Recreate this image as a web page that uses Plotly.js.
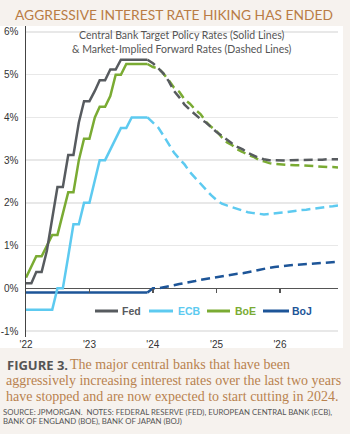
<!DOCTYPE html>
<html>
<head>
<meta charset="utf-8">
<script src="https://cdn.plot.ly/plotly-3.0.1.min.js"></script>
<style>
  html, body { margin: 0; padding: 0; background: #f6f2ee; }
  #chart { width: 350px; height: 434px; }
</style>
</head>
<body>
<div id="chart"></div>
<script>
// ---------- data ----------
const histMonths = ['2022-01','2022-02','2022-03','2022-04','2022-05','2022-06','2022-07','2022-08','2022-09','2022-10','2022-11','2022-12',
                    '2023-01','2023-02','2023-03','2023-04','2023-05','2023-06','2023-07','2023-08','2023-09','2023-10','2023-11','2023-12'];
const fcstMonths = ['2023-12',
                    '2024-01','2024-02','2024-03','2024-04','2024-05','2024-06','2024-07','2024-08','2024-09','2024-10','2024-11','2024-12',
                    '2025-01','2025-02','2025-03','2025-04','2025-05','2025-06','2025-07','2025-08','2025-09','2025-10','2025-11','2025-12',
                    '2026-01','2026-02','2026-03','2026-04','2026-05','2026-06','2026-07','2026-08','2026-09','2026-10','2026-11','2026-12'];

const fedHist = [0.12,0.12,0.38,0.38,0.88,1.62,2.37,2.37,3.12,3.12,3.88,4.38,4.38,4.62,4.87,4.87,5.12,5.12,5.35,5.35,5.35,5.35,5.35,5.35];
const ecbHist = [-0.5,-0.5,-0.5,-0.5,-0.5,-0.5,0,0,0.75,1.5,1.5,2.0,2.0,2.5,3.0,3.0,3.25,3.5,3.75,3.75,4.0,4.0,4.0,4.0];
const boeHist = [0.25,0.5,0.75,0.75,1.0,1.25,1.25,1.75,2.25,2.25,3.0,3.5,3.5,4.0,4.25,4.25,4.5,5.0,5.0,5.25,5.25,5.25,5.25,5.25];
const bojHist = [-0.1,-0.1,-0.1,-0.1,-0.1,-0.1,-0.1,-0.1,-0.1,-0.1,-0.1,-0.1,-0.1,-0.1,-0.1,-0.1,-0.1,-0.1,-0.1,-0.1,-0.1,-0.1,-0.1,-0.1];

const fedFcst = [5.35,5.27,5.15,5.03,4.85,4.62,4.47,4.3,4.18,4.06,3.96,3.88,3.76,3.66,3.57,3.48,3.39,3.31,3.25,3.17,3.11,3.05,3.02,3.0,3.0,2.99,2.99,3.0,3.0,3.0,3.0,3.01,3.01,3.01,3.02,3.02,3.02];
const ecbFcst = [4.0,3.87,3.76,3.58,3.38,3.18,3.03,2.9,2.72,2.58,2.46,2.3,2.18,2.07,1.98,1.94,1.9,1.85,1.81,1.78,1.76,1.74,1.73,1.74,1.76,1.77,1.78,1.8,1.81,1.83,1.84,1.86,1.88,1.89,1.91,1.92,1.94];
const boeFcst = [5.25,5.18,5.15,5.03,4.87,4.7,4.6,4.42,4.32,4.18,4.08,3.9,3.78,3.68,3.53,3.42,3.35,3.25,3.19,3.12,3.08,3.01,2.97,2.93,2.91,2.9,2.89,2.89,2.88,2.88,2.87,2.86,2.86,2.85,2.84,2.84,2.83];
const bojFcst = [-0.1,0.0,0.0,0.02,0.04,0.07,0.1,0.12,0.14,0.17,0.2,0.22,0.24,0.26,0.28,0.31,0.33,0.34,0.35,0.37,0.4,0.43,0.46,0.48,0.5,0.52,0.53,0.54,0.55,0.56,0.57,0.58,0.59,0.6,0.61,0.61,0.62];

const seriesNames = ['Fed','ECB','BoE','BoJ'];
const xTickVals = ['2022-01-01','2023-01-01','2024-01-01','2025-01-01','2026-01-01'];
const xTickText = ["'22","'23","'24","'25","'26"];
const yTickVals = [-1,0,1,2,3,4,5,6];
const yTickText = ['-1%','0%','1%','2%','3%','4%','5%','6%'];

// ---------- styling ----------
const colors = {Fed:'#575b5f', ECB:'#5dcaf0', BoE:'#7aab33', BoJ:'#1d5598'};
const W = 350, H = 434;
const M = {l:26, r:12, t:26, b:97};
const PW = W - M.l - M.r, PH = H - M.t - M.b;
const px = x => (x - M.l) / PW;
const py = y => (H - M.b - y) / PH;
const yRange = [-1.14, 6.14];
const xRange = ['2022-01-01','2026-12-01'];

const hist = {Fed:fedHist, ECB:ecbHist, BoE:boeHist, BoJ:bojHist};
const fcst = {Fed:fedFcst, ECB:ecbFcst, BoE:boeFcst, BoJ:bojFcst};
const drawOrder = ['BoJ','ECB','BoE','Fed'];

const traces = [];
drawOrder.forEach(n => {
  traces.push({x:fcstMonths, y:fcst[n], type:'scatter', mode:'lines', name:n+' forward',
    line:{color:colors[n], width:2.5, dash:'9px,5px'}, showlegend:false, hoverinfo:'skip'});
});
drawOrder.forEach(n => {
  traces.push({x:histMonths, y:hist[n], type:'scatter', mode:'lines', name:n,
    line:{color:colors[n], width:2.5}, showlegend:false});
});
// helper trace for the tick-mark axis sitting on the zero line
traces.push({x:[], y:[], xaxis:'x2', yaxis:'y', type:'scatter', showlegend:false});

const annotations = [
  {text:'AGGRESSIVE INTEREST RATE HIKING HAS ENDED', xref:'paper', yref:'paper', x:px(174), y:py(15),
   xanchor:'center', yanchor:'middle', showarrow:false, font:{family:'Lato', size:13.8, color:'#b97c45'}},
  {text:'Central Bank Target Policy Rates (Solid Lines)<br>& Market-Implied Forward Rates (Dashed Lines)',
   xref:'paper', yref:'paper', x:px(182), y:py(42), xanchor:'center', yanchor:'middle', showarrow:false,
   font:{family:'Lato', size:10.5, color:'#555'}},
  {text:'<b>FIGURE 3.</b>', xref:'paper', yref:'paper', x:px(5), y:py(365), xanchor:'left', yanchor:'middle',
   showarrow:false, font:{family:'Open Sans', size:13, color:'#555'}},
  {text:'The major central banks that have been', xref:'paper', yref:'paper', x:px(68), y:py(364), xanchor:'left', yanchor:'middle',
   showarrow:false, font:{family:'Liberation Serif', size:14, color:'#b9824f'}},
  {text:'aggressively increasing interest rates over the last two years', xref:'paper', yref:'paper', x:px(4), y:py(380), xanchor:'left', yanchor:'middle',
   showarrow:false, font:{family:'Liberation Serif', size:14, color:'#b9824f'}},
  {text:'have stopped and are now expected to start cutting in 2024.', xref:'paper', yref:'paper', x:px(4), y:py(396), xanchor:'left', yanchor:'middle',
   showarrow:false, font:{family:'Liberation Serif', size:14, color:'#b9824f'}},
  {text:'SOURCE: JPMORGAN.  NOTES: FEDERAL RESERVE (FED), EUROPEAN CENTRAL BANK (ECB),', xref:'paper', yref:'paper', x:px(1), y:py(412), xanchor:'left', yanchor:'middle',
   showarrow:false, font:{family:'Lato', size:7.8, color:'#555'}},
  {text:'BANK OF ENGLAND (BOE), BANK OF JAPAN (BOJ)', xref:'paper', yref:'paper', x:px(1), y:py(421), xanchor:'left', yanchor:'middle',
   showarrow:false, font:{family:'Lato', size:7.8, color:'#555'}}
];

// manual legend
const legendY = 311;
const legendItems = [
  {n:'Fed', x0:95, x1:118, tx:120},
  {n:'ECB', x0:149, x1:173, tx:176},
  {n:'BoE', x0:207, x1:230, tx:233},
  {n:'BoJ', x0:263, x1:289, tx:290}
];
const shapes = [
  {type:'rect', xref:'paper', yref:'paper', x0:px(0), x1:px(343), y0:py(348), y1:py(26),
   fillcolor:'#ffffff', line:{width:0}, layer:'below'}
];
legendItems.forEach(it => {
  shapes.push({type:'line', xref:'paper', yref:'paper', x0:px(it.x0), x1:px(it.x1), y0:py(legendY), y1:py(legendY),
    line:{color:colors[it.n], width:3}});
  annotations.push({text:'<b>'+it.n+'</b>', xref:'paper', yref:'paper', x:px(it.tx), y:py(legendY),
    xanchor:'left', yanchor:'middle', showarrow:false, font:{family:'Liberation Sans', size:10.5, color:colors[it.n]}});
});

const layout = {
  width:W, height:H,
  margin:M,
  paper_bgcolor:'#f6f2ee',
  plot_bgcolor:'#ffffff',
  showlegend:false,
  font:{family:'Liberation Sans', color:'#333'},
  xaxis:{type:'date', range:xRange, tickvals:xTickVals, ticktext:xTickText, showgrid:false, zeroline:false,
    showline:false, ticks:'', tickfont:{family:'Liberation Sans', size:10, color:'#333'}, fixedrange:true},
  xaxis2:{type:'date', range:xRange, overlaying:'x', anchor:'free', position:(0 - yRange[0])/(yRange[1]-yRange[0]),
    tickvals:xTickVals.slice(1), ticks:'outside', ticklen:4, tickwidth:1.5, tickcolor:'#555',
    showticklabels:false, showgrid:false, zeroline:false, showline:false},
  yaxis:{range:yRange, tickvals:yTickVals, ticktext:yTickText, showgrid:true, gridcolor:'#e8e8e8', gridwidth:1.5,
    zeroline:true, zerolinecolor:'#555', zerolinewidth:1.5, showline:true, linecolor:'#444', linewidth:1.5,
    ticks:'', ticklabelstandoff:4, tickfont:{family:'Liberation Sans', size:10, color:'#333'}, fixedrange:true},
  annotations:annotations,
  shapes:shapes
};

Plotly.newPlot('chart', traces, layout, {displayModeBar:false, staticPlot:true});
</script>
</body>
</html>
